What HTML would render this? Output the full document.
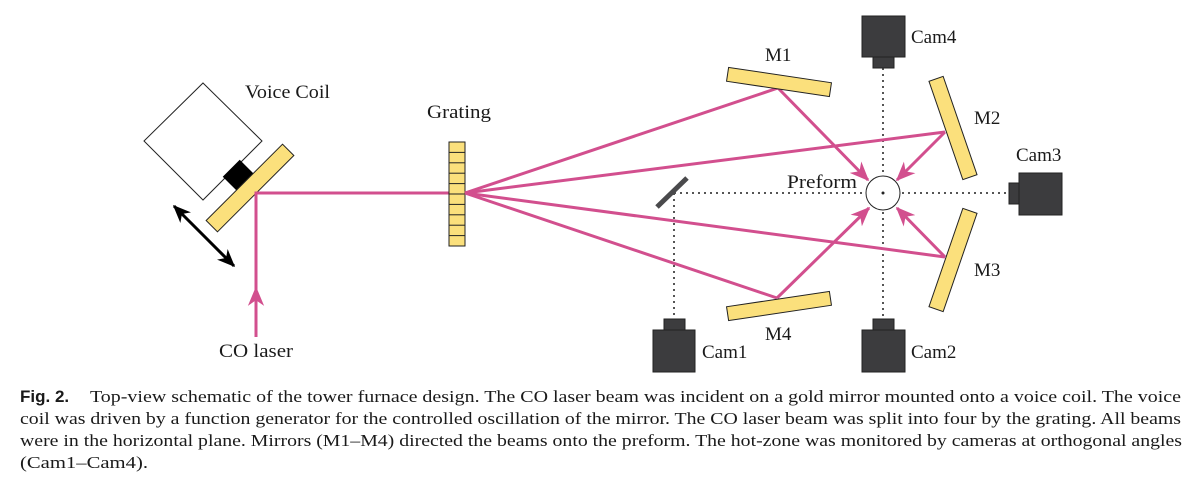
<!DOCTYPE html>
<html><head><meta charset="utf-8"><style>
html,body{margin:0;padding:0;background:#fff;}
svg{display:block;}
text{font-family:"Liberation Serif",serif;fill:#1a1a1a;}
text.sans{font-family:"Liberation Sans",sans-serif;font-weight:bold;}
</style></head><body>
<svg width="1200" height="487" viewBox="0 0 1200 487" xmlns="http://www.w3.org/2000/svg">
<defs>
<marker id="ah" viewBox="0 0 12 10" refX="11" refY="5" markerWidth="6.5" markerHeight="6.5" markerUnits="strokeWidth" orient="auto">
<path d="M0,0 L12,5 L0,10 L3.5,5 Z" fill="#d24f8e"/>
</marker>
<marker id="bk" viewBox="0 0 12 10" refX="11" refY="5" markerWidth="6" markerHeight="6" markerUnits="strokeWidth" orient="auto-start-reverse">
<path d="M0,0 L12,5 L0,10 L3.5,5 Z" fill="#000"/>
</marker>
</defs>

<polygon points="203,83 262,141 203,200 144,141" fill="#fff" stroke="#222" stroke-width="1"/>
<rect x="-11" y="-12" width="22" height="24" fill="#000" transform="translate(239,176) rotate(45)"/>
<rect x="-54" y="-8" width="108" height="16" fill="#fbe07c" stroke="#222" stroke-width="1" transform="translate(250,188) rotate(-45)"/>
<line x1="174" y1="206" x2="234" y2="266" stroke="#000" stroke-width="3" marker-start="url(#bk)" marker-end="url(#bk)"/>

<line x1="256" y1="337" x2="256" y2="288" stroke="#d24f8e" stroke-width="3" marker-end="url(#ah)"/>
<polyline points="256,292 256,193 465,193" fill="none" stroke="#d24f8e" stroke-width="3"/>

<rect x="449" y="142" width="16" height="104" fill="#fbe07c" stroke="#222" stroke-width="1"/>
<g stroke="#222" stroke-width="1">
<line x1="449" y1="152.4" x2="465" y2="152.4"/><line x1="449" y1="162.8" x2="465" y2="162.8"/>
<line x1="449" y1="173.2" x2="465" y2="173.2"/><line x1="449" y1="183.6" x2="465" y2="183.6"/>
<line x1="449" y1="194" x2="465" y2="194"/><line x1="449" y1="204.4" x2="465" y2="204.4"/>
<line x1="449" y1="214.8" x2="465" y2="214.8"/><line x1="449" y1="225.2" x2="465" y2="225.2"/>
<line x1="449" y1="235.6" x2="465" y2="235.6"/>
</g>

<g stroke="#555" stroke-width="2" stroke-dasharray="2,4">
<line x1="674" y1="193" x2="1009" y2="193"/>
<line x1="883" y1="68" x2="883" y2="320"/>
<line x1="674" y1="193" x2="674" y2="319"/>
</g>
<line x1="657" y1="207" x2="687" y2="178" stroke="#4a4a4c" stroke-width="5"/>

<g stroke="#d24f8e" stroke-width="3" fill="none">
<polyline points="465,193 778,88"/>
<polyline points="465,193 945,132"/>
<polyline points="465,193 945,257"/>
<polyline points="465,193 777,298"/>
<line x1="778" y1="88" x2="868" y2="180" marker-end="url(#ah)"/>
<line x1="945" y1="132" x2="897" y2="180" marker-end="url(#ah)"/>
<line x1="945" y1="257" x2="897" y2="208" marker-end="url(#ah)"/>
<line x1="777" y1="298" x2="869" y2="208" marker-end="url(#ah)"/>
</g>

<g fill="#fbe07c" stroke="#222" stroke-width="1">
<rect x="-52" y="-7" width="104" height="14" transform="translate(779,82) rotate(8.5)"/>
<rect x="-52" y="-7" width="104" height="14" transform="translate(779,306) rotate(-8.5)"/>
<rect x="-7.5" y="-52" width="15" height="104" transform="translate(953,128) rotate(-19)"/>
<rect x="-7.5" y="-52" width="15" height="104" transform="translate(953,260) rotate(19)"/>
</g>

<circle cx="883" cy="193" r="17" fill="#fff" stroke="#222" stroke-width="1"/>
<circle cx="883" cy="193" r="1.5" fill="#222"/>

<g fill="#3c3c3e" stroke="#222" stroke-width="1">
<rect x="862" y="16" width="43" height="41"/><rect x="873" y="57" width="21" height="11"/>
<rect x="1019" y="173" width="43" height="42"/><rect x="1009" y="183" width="10" height="21"/>
<rect x="653" y="330" width="42" height="42"/><rect x="664" y="319" width="21" height="11"/>
<rect x="862" y="330" width="43" height="42"/><rect x="873" y="319" width="21" height="11"/>
</g>

<g font-size="19">
<text x="245" y="98" textLength="85" lengthAdjust="spacingAndGlyphs">Voice Coil</text>
<text x="427" y="118" textLength="64" lengthAdjust="spacingAndGlyphs">Grating</text>
<text x="219" y="357" textLength="74" lengthAdjust="spacingAndGlyphs">CO laser</text>
<text x="765" y="61">M1</text>
<text x="974" y="124">M2</text>
<text x="974" y="276">M3</text>
<text x="765" y="340">M4</text>
<text x="787" y="188" textLength="70" lengthAdjust="spacingAndGlyphs">Preform</text>
<text x="911" y="43">Cam4</text>
<text x="1016" y="161">Cam3</text>
<text x="702" y="358">Cam1</text>
<text x="911" y="358">Cam2</text>
</g>

<text class="sans" x="20" y="402" font-size="17">Fig. 2.</text>
<g font-size="17">
<text x="90" y="402" textLength="1091" lengthAdjust="spacingAndGlyphs">Top-view schematic of the tower furnace design. The CO laser beam was incident on a gold mirror mounted onto a voice coil. The voice</text>
<text x="20" y="424" textLength="1161" lengthAdjust="spacingAndGlyphs">coil was driven by a function generator for the controlled oscillation of the mirror. The CO laser beam was split into four by the grating. All beams</text>
<text x="20" y="446" textLength="1162" lengthAdjust="spacingAndGlyphs">were in the horizontal plane. Mirrors (M1–M4) directed the beams onto the preform. The hot-zone was monitored by cameras at orthogonal angles</text>
<text x="20" y="468" textLength="128" lengthAdjust="spacingAndGlyphs">(Cam1–Cam4).</text>
</g>
</svg>
</body></html>
